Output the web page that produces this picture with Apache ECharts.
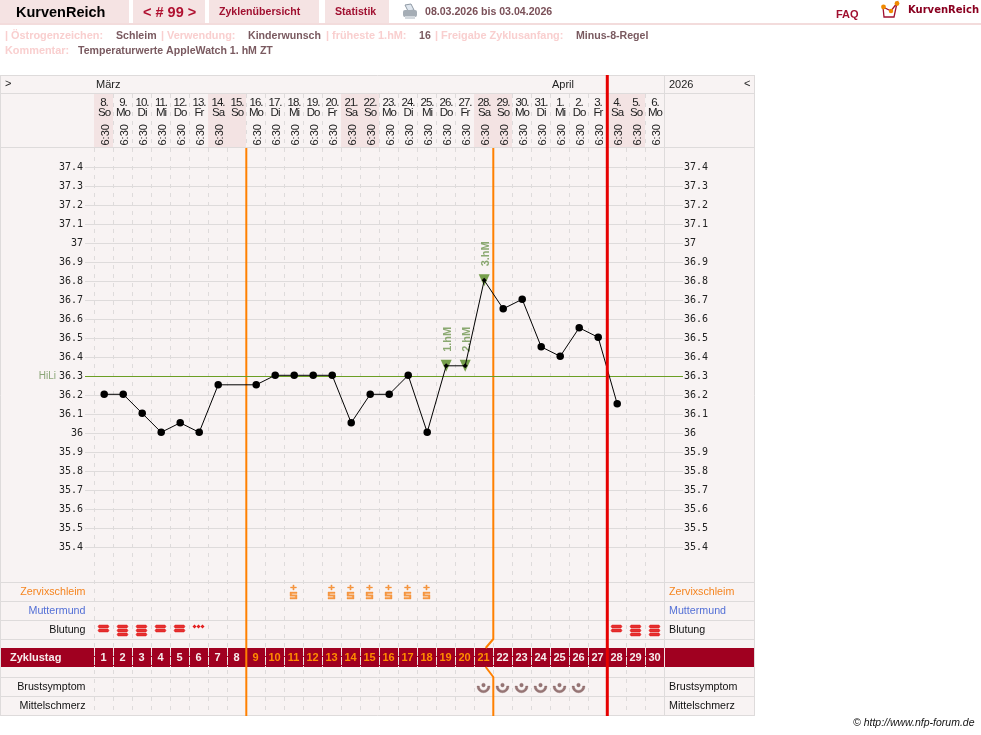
<!DOCTYPE html>
<html><head><meta charset="utf-8">
<style>html,body{margin:0;padding:0;background:#fff}#c{width:981px;height:735px}</style>
<script src="https://cdn.jsdelivr.net/npm/echarts@6/dist/echarts.min.js"></script></head>
<body><div id="c"></div>
<script>
const cycleDays = ['1','2','3','4','5','6','7','8','9','10','11','12','13','14','15','16','17','18','19','20','21','22','23','24','25','26','27','28','29','30'];
const dateLabels = ['8.','9.','10.','11.','12.','13.','14.','15.','16.','17.','18.','19.','20.','21.','22.','23.','24.','25.','26.','27.','28.','29.','30.','31.','1.','2.','3.','4.','5.','6.'];
const weekdays = ['So','Mo','Di','Mi','Do','Fr','Sa','So','Mo','Di','Mi','Do','Fr','Sa','So','Mo','Di','Mi','Do','Fr','Sa','So','Mo','Di','Mi','Do','Fr','Sa','So','Mo'];
const times = ['6:30','6:30','6:30','6:30','6:30','6:30','6:30','','6:30','6:30','6:30','6:30','6:30','6:30','6:30','6:30','6:30','6:30','6:30','6:30','6:30','6:30','6:30','6:30','6:30','6:30','6:30','6:30','6:30','6:30'];
const temperatures = [36.2,36.2,36.1,36.0,36.05,36.0,36.25,null,36.25,36.3,36.3,36.3,36.3,36.05,36.2,36.2,36.3,36.0,36.35,36.35,36.8,36.65,36.7,36.45,36.4,36.55,36.5,36.15,null,null];
const highMarkDays = [19,20,21];
const highMarkLabels = ['1.hM','2.hM','3.hM'];
const hiLi = 36.3;
const mucusDays = [11,13,14,15,16,17,18];
const bleeding = [2,3,3,2,2,1,0,0,0,0,0,0,0,0,0,0,0,0,0,0,0,0,0,0,0,0,0,2,3,3];
const breastDays = [21,22,23,24,25,26];
const orangeDaysFirst = 9, orangeDaysLast = 21;
const coverRuleDays = [8,21];
const cycleEndDay = 27;
const rowsTop = ['Zervixschleim','Muttermund','Blutung'];
const rowsBottom = ['Brustsymptom','Mittelschmerz'];
const rowColors = {Zervixschleim:'#f5841f',Muttermund:'#5470d6',Blutung:'#111',Brustsymptom:'#111',Mittelschmerz:'#111'};

// condensed look of the day/weekday header labels (no narrow font is installed)
const nativeFillText = CanvasRenderingContext2D.prototype.fillText;
CanvasRenderingContext2D.prototype.fillText = function(){
  this.letterSpacing = this.font.indexOf('11.5px') >= 0 ? '-1px' : '0px';
  return nativeFillText.apply(this, arguments);
};

const F='"Liberation Sans"';
const L=94,W=570,GRID='#dedbdb',DASH=[4,5];
const mucusPath='path://M2.5 0h1v2h2v1h-2v2h-1v-2h-2v-1h2zM0 7H6V8.5H1.5V9.75H6V14H0V12.5H4.5V11.25H0Z';
const bar=y=>`M1 ${y}H10L11 ${y+1.5}L10 ${y+3}H1L0 ${y+1.5}Z`;
const bleedSym={
 1:{symbol:'path://M1 1h1V0h1v1h1v1H3v1H2V2H1zM5 1h1V0h1v1h1v1H7v1H6V2H5zM9 1h1V0h1v1h1v1h-1v1h-1V2H9z',symbolSize:[11,3],symbolOffset:[0,-3.5]},
 2:{symbol:'path://'+bar(0)+bar(4),symbolSize:[11,7],symbolOffset:[0,-1.5]},
 3:{symbol:'path://'+bar(0)+bar(4)+bar(8),symbolSize:[11,11],symbolOffset:[0,0.5]}
};
const breastPath='path://M0 3A6.5 6.5 0 0 0 13 3H10.7A4.2 4.2 0 0 1 2.3 3ZM4.7 2A1.8 1.8 0 1 0 8.3 2A1.8 1.8 0 1 0 4.7 2Z';

const grids=[
 {left:L,width:W,top:94,height:53},   //0 header
 {left:L,width:W,top:148,height:568}, //1 body dashes
 {left:85,width:598,top:167,height:380}, //2 temp rules
 {left:L+0.7,width:W,top:166.3,height:380}, //3 temp
 {left:L,width:W,top:582.5,height:57},  //4 rows top
 {left:L,width:W,top:648,height:19},  //5 band
 {left:L,width:W,top:677.5,height:38},  //6 rows bottom
 {left:L+0.3,width:W,top:75,height:641}   //7 rules
];
const hiddenCat=(g,extra)=>Object.assign({type:'category',gridIndex:g,data:cycleDays,boundaryGap:true,axisLine:{show:false},axisTick:{show:false},axisLabel:{show:false},splitLine:{show:false}},extra||{});
const dashed=c=>({show:true,interval:0,lineStyle:{color:c,type:DASH,width:1}});
const xAxis=[
 hiddenCat(0,{splitLine:dashed(GRID)}),
 hiddenCat(1,{splitLine:dashed(GRID)}),
 {type:'value',gridIndex:2,min:0,max:1,show:false},
 hiddenCat(3),
 hiddenCat(4),
 hiddenCat(5,{splitLine:dashed('#f3e6e6')}),
 hiddenCat(6),
 {type:'value',gridIndex:7,min:0,max:30,interval:1,show:false}
];
const tempFmt=v=>String(+(+v).toFixed(1));
const tempLabel={fontFamily:'"DejaVu Sans Mono"',fontSize:10,color:'#222',formatter:tempFmt,showMinLabel:true,showMaxLabel:true};
const rowCat=(g,names,pos)=>({type:'category',gridIndex:g,data:names,inverse:true,position:pos,axisLine:{show:false},axisTick:{show:false},splitLine:{show:false},
  axisLabel:{interval:0,fontFamily:F,fontSize:10.7,margin:pos==='left'?8.5:5,color:v=>rowColors[v]}});
const yAxis=[
 {type:'value',gridIndex:0,min:0,max:1,show:false},
 {type:'value',gridIndex:1,min:0,max:1,show:false},
 {type:'value',gridIndex:2,min:35.4,max:37.4,interval:0.1,position:'left',axisLine:{show:false},axisTick:{show:false},
   splitLine:{show:true,lineStyle:{color:GRID,width:1}},axisLabel:Object.assign({margin:2},tempLabel)},
 {type:'value',gridIndex:2,min:35.4,max:37.4,interval:0.1,position:'right',axisLine:{show:false},axisTick:{show:false},
   splitLine:{show:false},axisLabel:Object.assign({margin:1},tempLabel)},
 {type:'value',gridIndex:3,min:35.4,max:37.4,interval:0.1,show:false},
 rowCat(4,rowsTop,'left'),
 rowCat(4,rowsTop,'right'),
 {type:'value',gridIndex:5,min:0,max:1,show:false},
 rowCat(6,rowsBottom,'left'),
 rowCat(6,rowsBottom,'right'),
 {type:'value',gridIndex:7,min:0,max:641,inverse:true,show:false}
];
const idx=d=>d-1;
const series=[
 {type:'bar',name:'weekend',xAxisIndex:0,yAxisIndex:0,barWidth:'100%',silent:true,z:1,
  data:weekdays.map(w=>(w==='Sa'||w==='So')?1:0),itemStyle:{color:'#f3e3e3'}},
 {type:'bar',name:'dates',xAxisIndex:0,yAxisIndex:0,barWidth:'100%',barGap:'-100%',silent:true,z:3,
  data:dateLabels.map(()=>1),itemStyle:{color:'transparent'},
  label:{show:true,position:['50%',4],align:'center',verticalAlign:'top',offset:[0.5,0],fontFamily:F,fontSize:11.5,lineHeight:10,color:'#222',
   formatter:p=>dateLabels[p.dataIndex]+'\n'+weekdays[p.dataIndex]}},
 {type:'bar',name:'times',xAxisIndex:0,yAxisIndex:0,barWidth:'100%',barGap:'-100%',silent:true,z:3,
  data:times.map(()=>1),itemStyle:{color:'transparent'},
  label:{show:true,position:['50%','100%'],align:'left',verticalAlign:'middle',rotate:90,offset:[1.5,2.5],fontFamily:F,fontSize:11,color:'#222',
   formatter:p=>times[p.dataIndex]}},
 {type:'line',name:'HiLi',xAxisIndex:2,yAxisIndex:2,data:[[0,hiLi]],symbol:'none',z:3,silent:true,
  markLine:{silent:true,symbol:'none',animation:false,lineStyle:{color:'#6b9e23',width:1,type:'solid'},
   label:{show:true,position:'start',formatter:'HiLi',distance:29,fontFamily:F,fontSize:10,color:'#8ba578'},
   data:[{yAxis:hiLi}]}},
 {type:'scatter',name:'hM',xAxisIndex:3,yAxisIndex:4,symbol:'triangle',symbolRotate:180,symbolSize:[11,12],z:5,silent:true,
  itemStyle:{color:'#558a20'},
  data:highMarkDays.map((d,i)=>({value:[idx(d),temperatures[idx(d)]],name:highMarkLabels[i]})),
  label:{show:true,position:'top',distance:8,offset:[0,2],rotate:90,align:'left',verticalAlign:'middle',fontFamily:F,fontSize:11,fontWeight:'bold',color:'#6f9650',formatter:p=>p.name}},
 {type:'line',name:'Temperatur',xAxisIndex:3,yAxisIndex:4,connectNulls:true,z:6,silent:true,
  lineStyle:{color:'#000',width:1},itemStyle:{color:'#000'},symbol:'circle',symbolSize:7.5,
  data:temperatures.map((t,i)=>highMarkDays.includes(i+1)?{value:[i,t],symbol:'diamond',symbolSize:5}:[i,t])},
 {type:'scatter',name:'Zervixschleim',xAxisIndex:4,yAxisIndex:5,symbol:mucusPath,symbolSize:[7,14],z:5,silent:true,itemStyle:{color:'#f5841f',borderColor:'#f5841f',borderWidth:0.4},
  data:mucusDays.map(d=>[idx(d),rowsTop[0]])},
 {type:'scatter',name:'Blutung',xAxisIndex:4,yAxisIndex:5,z:5,silent:true,itemStyle:{color:'#e00000',borderColor:'#e00000',borderWidth:0.5},
  data:bleeding.map((b,i)=>b?Object.assign({value:[i,rowsTop[2]]},bleedSym[b]):null).filter(Boolean)},
 {type:'bar',name:'Zyklustag',xAxisIndex:5,yAxisIndex:7,barWidth:'100%',z:3,silent:true,
  data:cycleDays.map(()=>1),itemStyle:{color:'transparent'},
  label:{show:true,position:'inside',fontFamily:F,fontSize:11,fontWeight:'bold',
   formatter:p=>{const d=p.dataIndex+1;return '{'+((d>=orangeDaysFirst&&d<=orangeDaysLast)?'o':'w')+'|'+cycleDays[p.dataIndex]+'}';},
   rich:{o:{color:'#ff8c00',fontFamily:F,fontSize:11,fontWeight:'bold'},w:{color:'#f6ecec',fontFamily:F,fontSize:11,fontWeight:'bold'}}}},
 {type:'scatter',name:'Brustsymptom',xAxisIndex:6,yAxisIndex:8,symbol:breastPath,symbolSize:[13,9.5],symbolOffset:[0,1],z:5,silent:true,itemStyle:{color:'#7d5555',borderColor:'#7d5555',borderWidth:0.4},
  data:breastDays.map(d=>[idx(d),rowsBottom[0]])},
 {type:'line',name:'rule1',xAxisIndex:7,yAxisIndex:10,symbol:'none',z:4,silent:true,lineStyle:{color:'#ff8000',width:2},
  data:[[coverRuleDays[0],73],[coverRuleDays[0],641]]},
 {type:'line',name:'rule2',xAxisIndex:7,yAxisIndex:10,symbol:'none',z:4,silent:true,lineStyle:{color:'#ff8000',width:2},
  data:[[coverRuleDays[1],73],[coverRuleDays[1],564],[coverRuleDays[1]-0.4,573],'-',[coverRuleDays[1]-0.4,592],[coverRuleDays[1],602],[coverRuleDays[1],641]].map(v=>v==='-'?[null,null]:v)},
 {type:'line',name:'end',xAxisIndex:7,yAxisIndex:10,symbol:'none',z:8,silent:true,lineStyle:{color:'#e60000',width:3},
  data:[[cycleEndDay,0],[cycleEndDay,641]]}
];
const T=(x,y,text,font,fill,extra)=>({type:'text',z:20,x,y,silent:true,style:Object.assign({text,font,fill,textVerticalAlign:'middle',verticalAlign:'middle'},extra||{})});
const R=(x,y,w,h,fill,z)=>({type:'rect',z:z==null?-1:z,silent:true,shape:{x,y,width:w,height:h},style:{fill}});
const H=(y,x1,x2,c)=>({type:'line',z:-0.5,silent:true,shape:{x1,y1:y,x2,y2:y},style:{stroke:c||GRID,lineWidth:1}});
const V=(x,y1,y2,c,z)=>({type:'line',z:z==null?-0.5:z,silent:true,shape:{x1:x,y1,x2:x,y2},style:{stroke:c||GRID,lineWidth:1}});
const bold11='bold 10.6px '+F, boldLab='bold 10.9px '+F;
const LAB='#f9cfcf',VAL='#7a5a60',DR='#a01030';
const graphicEls=[
 R(0,75,755,641,'#f8f3f3'),
 ...[75.5,93.5,147.5,582.5,601.5,620.5,639.5,677.5,696.5,715.5].map(y=>H(y,0,755)),
 V(0.5,75,716),V(754.5,75,716),V(664.5,75,716),
 R(0,0,129,23,'#f5e3e3',0),R(133,0,72,23,'#f5e3e3',0),R(209,0,110,23,'#f5e3e3',0),R(325,0,64,23,'#f5e3e3',0),
 R(0,23,981,2,'#f3dcdc',0),
 R(1,648,753,19,'#a00020',0),
 V(664.5,648,667,'#f3e6e6',1),
 T(16,13,'KurvenReich','bold 14.5px '+F,'#000'),
 T(143,13,'< # 99 >','bold 14.5px '+F,'#b01030'),
 T(219,12.5,'Zyklenübersicht',bold11,DR),
 T(335,12.5,'Statistik',bold11,DR),
 T(425,12.5,'08.03.2026 bis 03.04.2026',bold11,'#7a5058'),
 T(836,14.5,'FAQ','bold 11px '+F,DR),
 T(908,10.5,'KurvenReich','bold 10px "DejaVu Sans"','#8a0020'),
 // printer
 {type:'polygon',z:5,silent:true,shape:{points:[[405,5],[411,4],[414,10],[408,11]]},style:{fill:'#dfe6ee',stroke:'#8f9aa5',lineWidth:1}},
 {type:'rect',z:5,silent:true,shape:{x:403,y:10,width:14,height:7,r:2},style:{fill:'#a5adb5'}},
 {type:'rect',z:5,silent:true,shape:{x:405,y:16,width:10,height:3},style:{fill:'#d3d8dd'}},
 // logo
 {type:'polyline',z:5,silent:true,shape:{points:[[883,7],[884,17],[894,17],[897,3],[891,11],[883,7]]},style:{fill:'none',stroke:'#a01030',lineWidth:1.3}},
 {type:'circle',z:6,silent:true,shape:{cx:883.5,cy:7,r:2.4},style:{fill:'#f08a00'}},
 {type:'circle',z:6,silent:true,shape:{cx:891,cy:11,r:2.2},style:{fill:'#f08a00'}},
 {type:'circle',z:6,silent:true,shape:{cx:897,cy:3.5,r:2.4},style:{fill:'#f08a00'}},
 // info lines
 T(5,36,'| Östrogenzeichen:',boldLab,LAB),T(116,36,'Schleim',bold11,VAL),
 T(161,36,'| Verwendung:',boldLab,LAB),T(248,36,'Kinderwunsch',bold11,VAL),
 T(326,36,'| früheste 1.hM:',boldLab,LAB),T(419,36,'16',bold11,VAL),
 T(435,36,'| Freigabe Zyklusanfang:',boldLab,LAB),T(576,36,'Minus-8-Regel',bold11,VAL),
 T(5,51,'Kommentar:',boldLab,LAB),T(78,51,'Temperaturwerte AppleWatch 1. hM ZT',bold11,VAL),
 // month row
 T(5,83.5,'>','11px '+F,'#222'),T(96,85,'März','11px '+F,'#222'),T(552,85,'April','11px '+F,'#222'),
 T(669,85,'2026','11px '+F,'#222'),T(744,83.5,'<','11px '+F,'#222'),
 T(10,658,'Zyklustag','bold 11px '+F,'#f6ecec'),
 T(853,723,'© http://www.nfp-forum.de','italic 10.5px '+F,'#111')
];
const chart=echarts.init(document.getElementById('c'),null,{renderer:'canvas'});
chart.setOption({animation:false,backgroundColor:'#fff',tooltip:{show:false},grid:grids,xAxis,yAxis,series,graphic:{elements:graphicEls}});
</script></body></html>
